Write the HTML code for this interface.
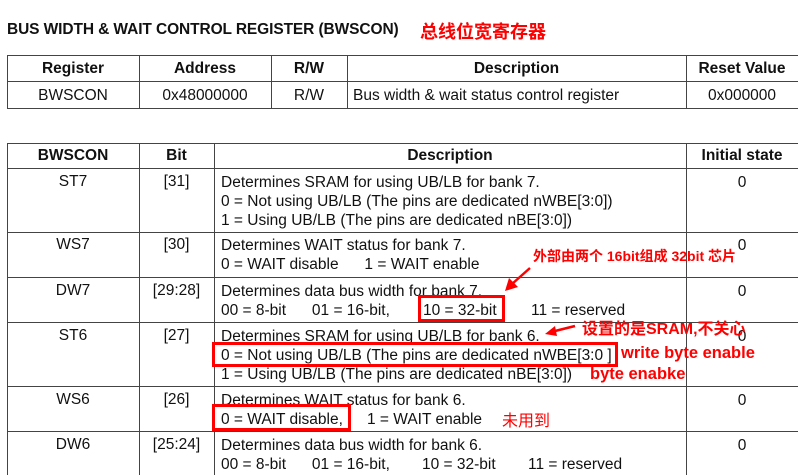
<!DOCTYPE html>
<html><head><meta charset="utf-8"><style>
body{margin:0;width:798px;height:475px;background:#fff;position:relative;overflow:hidden;font-family:"Liberation Sans",Arial,sans-serif;color:#111}
.t{position:absolute;white-space:pre;font-size:15.5px;line-height:19px}
.h{position:absolute;border-left:1.5px solid #444;}
.v{position:absolute;border-top:1.5px solid #444;}
.c{text-align:center}
.b{font-weight:bold}
.r{position:absolute;border:3px solid #f00;box-sizing:border-box}
.red{position:absolute;color:#f00;font-weight:bold;white-space:nowrap;font-family:"Liberation Sans","Noto Sans CJK SC",sans-serif}
</style></head><body>
<div class="t b" style="left:7px;top:20px;font-size:15.5px;letter-spacing:-0.1px">BUS WIDTH &amp; WAIT CONTROL REGISTER (BWSCON)</div>
<div class="red" style="left:420px;top:18px;font-size:18px">总线位宽寄存器</div>

<!-- table 1 -->
<div class="v" style="left:7px;top:55px;width:791px"></div>
<div class="v" style="left:7px;top:81px;width:791px"></div>
<div class="v" style="left:7px;top:108px;width:791px"></div>
<div class="h" style="left:7px;top:55px;height:54px"></div>
<div class="h" style="left:139px;top:55px;height:54px"></div>
<div class="h" style="left:271px;top:55px;height:54px"></div>
<div class="h" style="left:347px;top:55px;height:54px"></div>
<div class="h" style="left:686px;top:55px;height:54px"></div>
<div class="t b c" style="left:7px;width:132px;top:59px">Register</div>
<div class="t b c" style="left:139px;width:132px;top:59px">Address</div>
<div class="t b c" style="left:271px;width:76px;top:59px">R/W</div>
<div class="t b c" style="left:347px;width:339px;top:59px">Description</div>
<div class="t b c" style="left:686px;width:112px;top:59px">Reset Value</div>
<div class="t c" style="left:7px;width:132px;top:86px">BWSCON</div>
<div class="t c" style="left:139px;width:132px;top:86px">0x48000000</div>
<div class="t c" style="left:271px;width:76px;top:86px">R/W</div>
<div class="t" style="left:353px;top:86px">Bus width &amp; wait status control register</div>
<div class="t c" style="left:686px;width:112px;top:86px">0x000000</div>

<!-- table 2 -->
<div class="v" style="left:7px;top:143px;width:791px"></div>
<div class="v" style="left:7px;top:168px;width:791px"></div>
<div class="v" style="left:7px;top:232px;width:791px"></div>
<div class="v" style="left:7px;top:277px;width:791px"></div>
<div class="v" style="left:7px;top:322px;width:791px"></div>
<div class="v" style="left:7px;top:386px;width:791px"></div>
<div class="v" style="left:7px;top:431px;width:791px"></div>
<div class="h" style="left:7px;top:143px;height:332px"></div>
<div class="h" style="left:139px;top:143px;height:332px"></div>
<div class="h" style="left:214px;top:143px;height:332px"></div>
<div class="h" style="left:686px;top:143px;height:332px"></div>
<div class="t b c" style="left:7px;width:132px;top:146px">BWSCON</div>
<div class="t b c" style="left:139px;width:75px;top:146px">Bit</div>
<div class="t b c" style="left:214px;width:472px;top:146px">Description</div>
<div class="t b c" style="left:686px;width:112px;top:146px">Initial state</div>

<div class="t c" style="left:7px;width:132px;top:172px">ST7</div>
<div class="t c" style="left:139px;width:75px;top:172px">[31]</div>
<div class="t" style="left:221px;top:173px">Determines SRAM for using UB/LB for bank 7.
0 = Not using UB/LB (The pins are dedicated nWBE[3:0])
1 = Using UB/LB (The pins are dedicated nBE[3:0])</div>
<div class="t c" style="left:686px;width:112px;top:173px">0</div>

<div class="t c" style="left:7px;width:132px;top:235px">WS7</div>
<div class="t c" style="left:139px;width:75px;top:235px">[30]</div>
<div class="t" style="left:221px;top:236px">Determines WAIT status for bank 7.
0 = WAIT disable      1 = WAIT enable</div>
<div class="t c" style="left:686px;width:112px;top:236px">0</div>

<div class="t c" style="left:7px;width:132px;top:281px">DW7</div>
<div class="t c" style="left:139px;width:75px;top:281px">[29:28]</div>
<div class="t" style="left:221px;top:282px">Determines data bus width for bank 7.</div>
<div class="t" style="left:221px;top:301px">00 = 8-bit      01 = 16-bit,</div>
<div class="t" style="left:423px;top:301px">10 = 32-bit</div>
<div class="t" style="left:531px;top:301px">11 = reserved</div>
<div class="t c" style="left:686px;width:112px;top:282px">0</div>

<div class="t c" style="left:7px;width:132px;top:326px">ST6</div>
<div class="t c" style="left:139px;width:75px;top:326px">[27]</div>
<div class="t" style="left:221px;top:327px">Determines SRAM for using UB/LB for bank 6.
0 = Not using UB/LB (The pins are dedicated nWBE[3:0 ]
1 = Using UB/LB (The pins are dedicated nBE[3:0])</div>
<div class="t c" style="left:686px;width:112px;top:327px">0</div>

<div class="t c" style="left:7px;width:132px;top:390px">WS6</div>
<div class="t c" style="left:139px;width:75px;top:390px">[26]</div>
<div class="t" style="left:221px;top:391px">Determines WAIT status for bank 6.</div>
<div class="t" style="left:221px;top:410px">0 = WAIT disable,</div>
<div class="t" style="left:367px;top:410px">1 = WAIT enable</div>
<div class="t c" style="left:686px;width:112px;top:391px">0</div>

<div class="t c" style="left:7px;width:132px;top:435px">DW6</div>
<div class="t c" style="left:139px;width:75px;top:435px">[25:24]</div>
<div class="t" style="left:221px;top:436px">Determines data bus width for bank 6.</div>
<div class="t" style="left:221px;top:455px">00 = 8-bit      01 = 16-bit,</div>
<div class="t" style="left:422px;top:455px">10 = 32-bit</div>
<div class="t" style="left:528px;top:455px">11 = reserved</div>
<div class="t c" style="left:686px;width:112px;top:436px">0</div>

<!-- red marks -->
<div class="r" style="left:418px;top:295px;width:87px;height:27px"></div>
<div class="r" style="left:212px;top:342px;width:406px;height:25px"></div>
<div class="r" style="left:212px;top:404px;width:139px;height:27px"></div>
<div class="red" style="left:533px;top:246px;font-size:14px">外部由两个 16bit组成 32bit 芯片</div>
<div class="red" style="left:582px;top:315px;font-size:16px">设置的是SRAM,不关心</div>
<div class="red" style="left:621px;top:344px;font-size:16.5px">write byte enable</div>
<div class="red" style="left:590px;top:365px;font-size:16.5px">byte enabke</div>
<div class="red" style="left:502px;top:407px;font-size:16px;font-weight:normal">未用到</div>
<svg style="position:absolute;left:0;top:0" width="798" height="475">
<line x1="530" y1="268" x2="512" y2="284" stroke="#f00" stroke-width="2.5"/>
<polygon points="505,291 509,278 518,287" fill="#f00"/>
<line x1="575" y1="326" x2="555" y2="331" stroke="#f00" stroke-width="2.5"/>
<polygon points="545,334 555,326 557,336" fill="#f00"/>
</svg>
</body></html>
